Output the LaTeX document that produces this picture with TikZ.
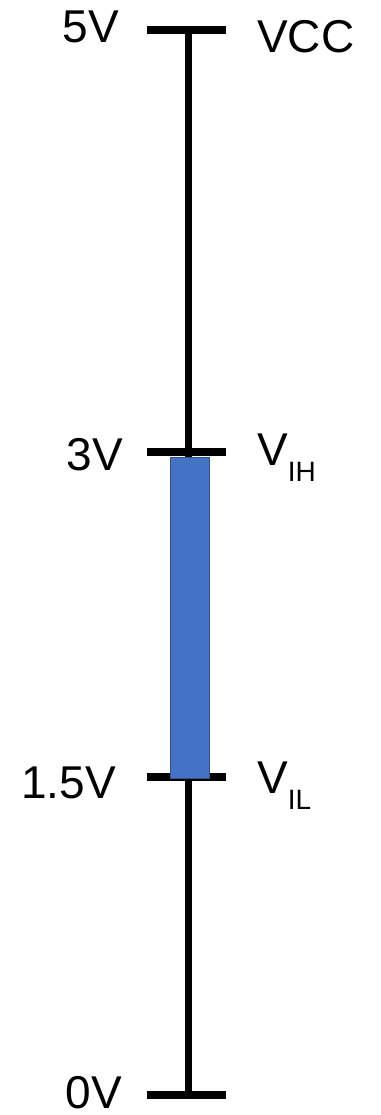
\documentclass[tikz,border=0pt]{standalone}
\usepackage{fontspec}
\setmainfont{Liberation Sans}
\definecolor{barblue}{HTML}{4472C4}
\definecolor{baredge}{HTML}{2F528F}
\tikzset{
  tick/.style={line width=8pt},
  axis/.style={line width=7pt},
  lbl/.style={inner sep=0pt, font=\fontsize{46pt}{46pt}\selectfont},
  band/.style={fill=barblue, draw=baredge, line width=1pt}
}
\newcommand{\subtxt}[1]{{\fontsize{28pt}{28pt}\selectfont\raisebox{-16pt}{#1}}}
\begin{document}
\begin{tikzpicture}[x=1pt,y=-1pt]
\useasboundingbox (0,0) rectangle (380,1115);
% axis
\coordinate (top) at (188,30);
\coordinate (bot) at (188,1095);
\draw[axis] (top) -- (bot);
% ticks
\coordinate (t5l) at (147,30);   \coordinate (t5r) at (226,30);
\coordinate (t3l) at (147,452);  \coordinate (t3r) at (226,452);
\coordinate (t15l) at (147,777); \coordinate (t15r) at (226,777);
\coordinate (t0l) at (147,1095); \coordinate (t0r) at (226,1095);
\draw[tick] (t5l) -- (t5r);
\draw[tick] (t3l) -- (t3r);
\draw[tick] (t15l) -- (t15r);
\draw[tick] (t0l) -- (t0r);
% band
\coordinate (bandtop) at (170,457);
\coordinate (bandbot) at (209,778);
\draw[band] (bandtop) rectangle (bandbot);
% labels
\node[lbl, anchor=base east] (l5) at (119,43) {5V};
\node[lbl, anchor=base west] (lvcc) at (257,53) {VCC};
\node[lbl, anchor=base east] (l3) at (123,470) {3V};
\node[lbl, anchor=base west] (lvih) at (257,465) {V\subtxt{IH}};
\node[lbl, anchor=base east] (l15) at (116,798) {1.5V};
\node[lbl, anchor=base west] (lvil) at (257,793) {V\subtxt{IL}};
\node[lbl, anchor=base east] (l0) at (122,1108) {0V};
\end{tikzpicture}
\end{document}
